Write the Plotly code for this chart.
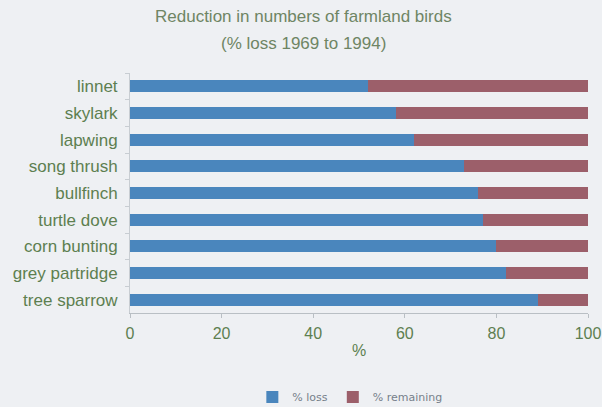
import plotly.graph_objects as go

# Farmland bird species, top to bottom as listed on the chart
birds = ["linnet", "skylark", "lapwing", "song thrush", "bullfinch",
         "turtle dove", "corn bunting", "grey partridge", "tree sparrow"]
pct_loss = [52, 58, 62, 73, 76, 77, 80, 82, 89]
pct_remaining = [100 - v for v in pct_loss]
x_ticks = [0, 20, 40, 60, 80, 100]

BG = "#eef0f3"
TEXT = "#5d7f50"
TITLE = "#6e8564"
BLUE = "#4a86bd"
RED = "#9c5f6a"

fig = go.Figure()
fig.add_trace(go.Bar(y=birds, x=pct_loss, orientation="h", name="% loss",
                     marker=dict(color=BLUE, line=dict(width=0))))
fig.add_trace(go.Bar(y=birds, x=pct_remaining, orientation="h", name="% remaining",
                     marker=dict(color=RED, line=dict(width=0))))

fig.update_layout(
    barmode="stack",
    bargap=0.55,
    width=602, height=407,
    margin=dict(l=130, r=14, t=73, b=94, autoexpand=False),
    paper_bgcolor=BG, plot_bgcolor=BG,
    font=dict(family="Liberation Sans, Arial, sans-serif", color=TEXT),
    showlegend=True,
    legend=dict(orientation="h", x=0.48, xanchor="center",
                yref="container", y=10 / 407, yanchor="middle",
                font=dict(size=11, color="#767f8a", family="DejaVu Sans, sans-serif"),
                traceorder="normal", itemwidth=30, bgcolor="rgba(0,0,0,0)"),
)

fig.add_annotation(text="Reduction in numbers of farmland birds", xref="paper", yref="paper",
                   x=(303 - 130) / 458, y=(313 - 17) / 240, showarrow=False,
                   font=dict(size=17, color=TITLE), xanchor="center", yanchor="middle")
fig.add_annotation(text="(% loss 1969 to 1994)", xref="paper", yref="paper",
                   x=(303 - 130) / 458, y=(313 - 43) / 240, showarrow=False,
                   font=dict(size=17, color=TITLE), xanchor="center", yanchor="middle")

fig.update_xaxes(
    range=[0, 100], tickvals=x_ticks, ticktext=[str(v) for v in x_ticks],
    showgrid=False, zeroline=False, automargin=False,
    showline=True, linecolor="#b9bfc4", linewidth=1,
    ticks="outside", ticklen=4, tickcolor="#b9bfc4",
    tickfont=dict(size=16, color=TEXT), ticklabelstandoff=2,
    title=dict(text="%", font=dict(size=16, color=TEXT), standoff=3),
)
fig.update_yaxes(
    categoryorder="array", categoryarray=birds, autorange="reversed",
    showgrid=False, zeroline=False, automargin=False,
    showline=True, linecolor="#c8cdd2", linewidth=1,
    ticks="outside", ticklen=4, tickcolor="#c8cdd2", tickson="boundaries",
    tickfont=dict(size=17, color=TEXT), ticklabelstandoff=8,
)

fig.write_html("out.html")
